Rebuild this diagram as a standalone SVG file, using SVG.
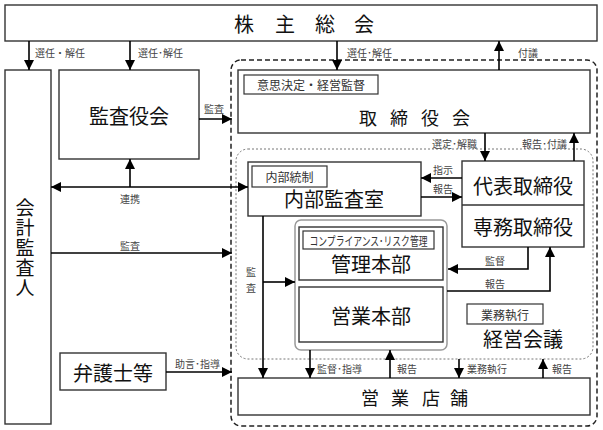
<svg xmlns="http://www.w3.org/2000/svg" width="603" height="430" viewBox="0 0 603 430">
<style>
text{font-family:"Noto Sans CJK JP","Noto Sans CJK SC",sans-serif;fill:#111;dominant-baseline:central}
.box{fill:#fff;stroke:#333;stroke-width:1.4}
.tag{fill:#fff;stroke:#333;stroke-width:1.2}
.big{font-size:20px;text-anchor:middle}
.mid{font-size:18px;text-anchor:middle}
.sm{font-size:10px;fill:#444}
.tg{font-size:12px;fill:#333;text-anchor:middle}
.ln{fill:none;stroke:#000;stroke-width:1.6}
</style>
<defs>
<marker id="ah" markerUnits="userSpaceOnUse" markerWidth="10" markerHeight="10" viewBox="0 0 10 10" refX="10" refY="5" orient="auto">
<path d="M0,0 L10,5 L0,10 z" fill="#000"/>
</marker>
<marker id="as" markerUnits="userSpaceOnUse" markerWidth="10" markerHeight="10" viewBox="0 0 10 10" refX="0" refY="5" orient="auto">
<path d="M10,0 L0,5 L10,10 z" fill="#000"/>
</marker>
</defs>

<!-- group containers -->
<rect x="231" y="60" width="366" height="366" rx="10" fill="none" stroke="#222" stroke-width="1.5" stroke-dasharray="5,3"/>
<rect x="236" y="149" width="357" height="210" rx="12" fill="none" stroke="#777" stroke-width="1" stroke-dasharray="2,2"/>
<rect x="295" y="220" width="152" height="130" rx="6" fill="#fff" stroke="#999" stroke-width="1.5"/>

<g id="kabunushi">
<rect class="box" x="5" y="5" width="592" height="36"/>
<text class="big" x="244 285 325 364" y="23">株主総会</text>
</g>

<g id="kaikei">
<rect class="box" x="5" y="70" width="46" height="354"/>
<text x="25" y="198" font-size="19" writing-mode="vertical-rl" letter-spacing="1" style="dominant-baseline:central">会計監査人</text>
</g>

<g id="kansayakukai">
<rect class="box" x="59" y="70" width="140" height="89"/>
<text class="big" x="129" y="115">監査役会</text>
</g>

<g id="torishimariyakukai">
<rect class="box" x="238" y="70" width="352" height="63"/>
<rect class="tag" x="244" y="75" width="134" height="19"/>
<text class="tg" x="311" y="84.5" font-size="12.5">意思決定・経営監督</text>
<text class="mid" x="368 399 430 461" y="117">取締役会</text>
</g>

<g id="naibukansashitsu">
<rect class="box" x="248" y="162" width="173" height="54"/>
<rect class="tag" x="252" y="166" width="75" height="21"/>
<text class="tg" x="289.5" y="176.5">内部統制</text>
<text class="big" x="334" y="198">内部監査室</text>
</g>

<g id="daihyo">
<rect class="box" x="462" y="161" width="122" height="86"/>
<line x1="462" y1="205" x2="584" y2="205" stroke="#333" stroke-width="1.4"/>
<text class="big" x="523" y="185">代表取締役</text>
<text class="big" x="523" y="226">専務取締役</text>
</g>

<g id="kanrihonbu">
<rect class="box" x="299" y="227" width="144" height="53"/>
<rect class="tag" x="303" y="231" width="131" height="18"/>
<text class="tg" x="368.5" y="240" font-size="11" textLength="118" lengthAdjust="spacingAndGlyphs">コンプライアンス･リスク管理</text>
<text class="big" x="371" y="263">管理本部</text>
</g>

<g id="eigyohonbu">
<rect class="box" x="299" y="287" width="144" height="55"/>
<text class="big" x="371" y="315">営業本部</text>
</g>

<g id="keieikaigi">
<rect class="tag" x="467" y="304" width="76" height="20"/>
<text class="tg" x="505" y="314" font-size="13">業務執行</text>
<text class="big" x="523" y="338">経営会議</text>
</g>

<g id="eigyotenpo">
<rect class="box" x="238" y="378" width="352" height="37"/>
<text class="mid" x="370 400 431 459" y="397">営業店舗</text>
</g>

<g id="bengoshi">
<rect class="box" x="60" y="353" width="106" height="37"/>
<text class="big" x="113" y="372">弁護士等</text>
</g>

<g id="connectors">
<line class="ln" x1="29" y1="41" x2="29" y2="70" marker-end="url(#ah)"/>
<line class="ln" x1="130" y1="41" x2="130" y2="70" marker-end="url(#ah)"/>
<line class="ln" x1="337" y1="41" x2="337" y2="70" marker-end="url(#ah)"/>
<line class="ln" x1="499" y1="70" x2="499" y2="41" marker-end="url(#ah)"/>
<line class="ln" x1="199" y1="119" x2="232" y2="119" marker-end="url(#ah)"/>
<line class="ln" x1="51" y1="187" x2="248" y2="187" marker-start="url(#as)" marker-end="url(#ah)"/>
<line class="ln" x1="130" y1="187" x2="130" y2="159" marker-end="url(#ah)"/>
<line class="ln" x1="51" y1="253" x2="232" y2="253" marker-end="url(#ah)"/>
<line class="ln" x1="166" y1="372" x2="232" y2="372" marker-end="url(#ah)"/>
<line class="ln" x1="485" y1="133" x2="485" y2="161" marker-end="url(#ah)"/>
<line class="ln" x1="574" y1="161" x2="574" y2="133" marker-end="url(#ah)"/>
<line class="ln" x1="462" y1="178" x2="421" y2="178" marker-end="url(#ah)"/>
<line class="ln" x1="421" y1="197" x2="462" y2="197" marker-end="url(#ah)"/>
<path class="ln" d="M528,247 V269 H448" marker-end="url(#ah)"/>
<path class="ln" d="M447,291 H550 V247" marker-end="url(#ah)"/>
<path class="ln" d="M263,216 V378" marker-end="url(#ah)"/>
<path class="ln" d="M263,282 H295" marker-end="url(#ah)"/>
<line class="ln" x1="310" y1="350" x2="310" y2="378" marker-end="url(#ah)"/>
<line class="ln" x1="390" y1="378" x2="390" y2="350" marker-end="url(#ah)"/>
<line class="ln" x1="459" y1="359" x2="459" y2="378" marker-end="url(#ah)"/>
<line class="ln" x1="543" y1="378" x2="543" y2="359" marker-end="url(#ah)"/>
</g>

<g id="labels">
<text class="sm" x="35" y="52">選任・解任</text>
<text class="sm" x="138" y="52">選任･解任</text>
<text class="sm" x="347" y="52">選任･解任</text>
<text class="sm" x="518" y="52">付議</text>
<text class="sm" x="204" y="108">監査</text>
<text class="sm" x="120" y="198">連携</text>
<text class="sm" x="120" y="245">監査</text>
<text class="sm" x="175" y="363">助言･指導</text>
<text class="sm" x="477" y="143" text-anchor="end">選定･解職</text>
<text class="sm" x="567" y="143" text-anchor="end">報告･付議</text>
<text class="sm" x="433" y="169">指示</text>
<text class="sm" x="433" y="188">報告</text>
<text class="sm" x="485" y="260">監督</text>
<text class="sm" x="485" y="283">報告</text>
<text class="sm" x="246" y="271">監</text>
<text class="sm" x="246" y="287">査</text>
<text class="sm" x="317" y="368">監督･指導</text>
<text class="sm" x="397" y="368">報告</text>
<text class="sm" x="467" y="368">業務執行</text>
<text class="sm" x="552" y="368">報告</text>
</g>
</svg>
